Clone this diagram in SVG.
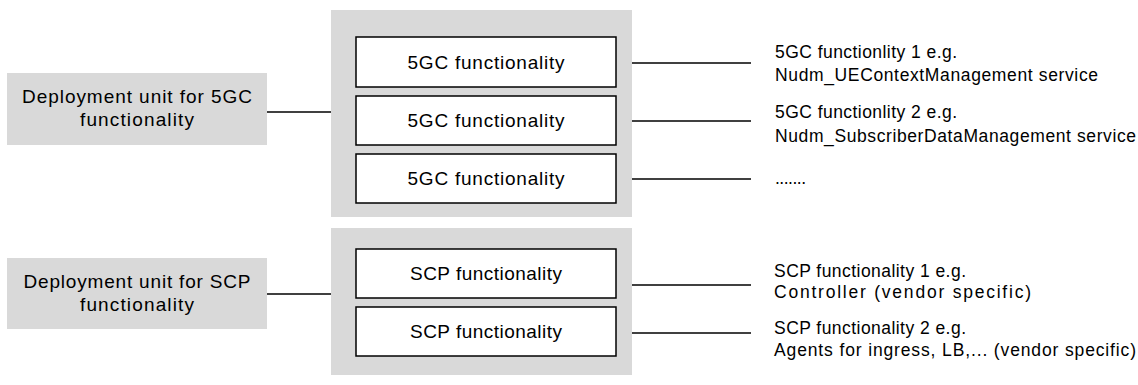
<svg xmlns="http://www.w3.org/2000/svg" width="1138" height="385" viewBox="0 0 1138 385">
<style>
.unit{fill:#d9d9d9;stroke:none}
.box{fill:#ffffff;stroke:#000000;stroke-width:1.5}
.t{font-family:"Liberation Sans",Arial,sans-serif;font-size:19px;fill:#000000}
.c{text-anchor:middle}
.r{font-family:"Liberation Sans",Arial,sans-serif;font-size:17.5px;fill:#000000}
.ln{stroke:#000000;stroke-width:1.4;fill:none}
</style>
<rect width="1138" height="385" fill="#ffffff"/>
<g id="connectors">
<line class="ln" x1="267" y1="112" x2="331" y2="112"/>
<line class="ln" x1="267" y1="294" x2="331" y2="294"/>
<line class="ln" x1="616" y1="63" x2="751" y2="63"/>
<line class="ln" x1="616" y1="121" x2="751" y2="121"/>
<line class="ln" x1="616" y1="179" x2="751" y2="179"/>
<line class="ln" x1="616" y1="285" x2="751" y2="285"/>
<line class="ln" x1="616" y1="333" x2="751" y2="333"/>
</g>
<g id="du5gc">
<rect class="unit" x="7" y="73" width="260" height="72"/>
<text class="t c" x="137" y="103" textLength="230" lengthAdjust="spacing">Deployment unit for 5GC</text>
<text class="t c" x="137" y="126" textLength="114" lengthAdjust="spacing">functionality</text>
</g>
<g id="ducp">
<rect class="unit" x="7" y="258" width="260" height="71"/>
<text class="t c" x="137" y="288" textLength="227" lengthAdjust="spacing">Deployment unit for SCP</text>
<text class="t c" x="137" y="311" textLength="114" lengthAdjust="spacing">functionality</text>
</g>
<g id="cont5gc">
<rect class="unit" x="331" y="10" width="301" height="207"/>
</g>
<g id="contscp">
<rect class="unit" x="331" y="228" width="301" height="147"/>
</g>
<g id="f5gc1">
<rect class="box" x="356" y="37" width="260" height="50"/>
<text class="t c" x="486" y="69" textLength="157" lengthAdjust="spacing">5GC functionality</text>
</g>
<g id="f5gc2">
<rect class="box" x="356" y="96" width="260" height="49"/>
<text class="t c" x="486" y="127" textLength="157" lengthAdjust="spacing">5GC functionality</text>
</g>
<g id="f5gc3">
<rect class="box" x="356" y="154" width="260" height="49"/>
<text class="t c" x="486" y="185" textLength="157" lengthAdjust="spacing">5GC functionality</text>
</g>
<g id="fscp1">
<rect class="box" x="356" y="249" width="260" height="49"/>
<text class="t c" x="486" y="280" textLength="152" lengthAdjust="spacing">SCP functionality</text>
</g>
<g id="fscp2">
<rect class="box" x="356" y="307" width="260" height="49"/>
<text class="t c" x="486" y="338" textLength="152" lengthAdjust="spacing">SCP functionality</text>
</g>
<g id="lbl5gc1">
<text class="r" x="775" y="58" textLength="182" lengthAdjust="spacing">5GC functionlity 1 e.g.</text>
<text class="r" x="775" y="81" textLength="323" lengthAdjust="spacing">Nudm_UEContextManagement service</text>
</g>
<g id="lbl5gc2">
<text class="r" x="775" y="118" textLength="182" lengthAdjust="spacing">5GC functionlity 2 e.g.</text>
<text class="r" x="775" y="142" textLength="361" lengthAdjust="spacing">Nudm_SubscriberDataManagement service</text>
</g>
<g id="lbl5gc3">
<text class="r" x="775" y="184" textLength="31" lengthAdjust="spacing">.......</text>
</g>
<g id="lblscp1">
<text class="r" x="774" y="277" textLength="192" lengthAdjust="spacing">SCP functionality 1 e.g.</text>
<text class="r" x="774" y="298" textLength="257" lengthAdjust="spacing">Controller (vendor specific)</text>
</g>
<g id="lblscp2">
<text class="r" x="774" y="334" textLength="192" lengthAdjust="spacing">SCP functionality 2 e.g.</text>
<text class="r" x="774" y="356" textLength="362" lengthAdjust="spacing">Agents for ingress, LB,... (vendor specific)</text>
</g>
</svg>
